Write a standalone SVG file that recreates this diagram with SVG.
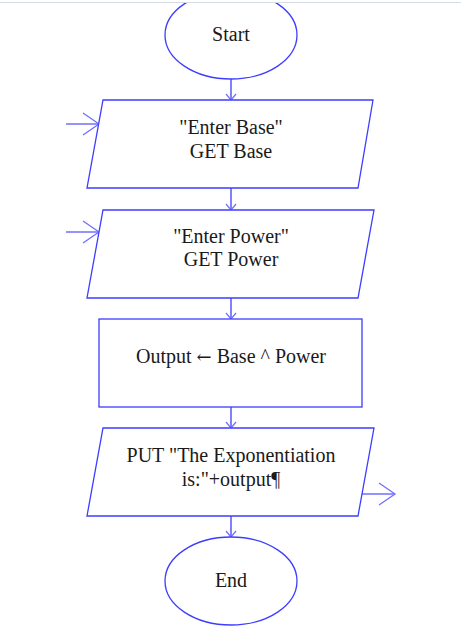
<svg xmlns="http://www.w3.org/2000/svg" width="461" height="636" viewBox="0 0 461 636">
<style>
.shape{fill:#fff;stroke:#3d3dff;stroke-width:1.3}
.t{font-family:'Liberation Serif','Times New Roman','DejaVu Serif',serif;font-size:20px;fill:#1a1a1a;text-anchor:middle}
.arr{font-family:'DejaVu Serif',serif;font-size:18px}
.conn{stroke:#3d3dff;stroke-width:1.3;fill:none}
.ext{stroke:#7070ff;stroke-width:1.3;fill:none}
</style>
<defs>
<marker id="ah" markerWidth="12" markerHeight="12" refX="10" refY="6" orient="auto" markerUnits="userSpaceOnUse">
<path d="M4,1 L10,6 L4,11" fill="none" stroke="#7070ff" stroke-width="1.2"/>
</marker>
<marker id="big" markerWidth="20" markerHeight="26" refX="18" refY="13" orient="auto" markerUnits="userSpaceOnUse">
<path d="M2,2 L18,13 L2,24" fill="none" stroke="#7070ff" stroke-width="1.3"/>
</marker>
</defs>
<rect width="461" height="636" fill="#fff"/>
<g id="connectors">
<line class="conn" x1="231" y1="79" x2="231" y2="100" marker-end="url(#ah)"/>
<line class="conn" x1="231" y1="188" x2="231" y2="210" marker-end="url(#ah)"/>
<line class="conn" x1="231" y1="298" x2="231" y2="319" marker-end="url(#ah)"/>
<line class="conn" x1="231" y1="407" x2="231" y2="428" marker-end="url(#ah)"/>
<line class="conn" x1="231" y1="516" x2="231" y2="537" marker-end="url(#ah)"/>
<line class="ext" x1="66" y1="124" x2="99" y2="124" marker-end="url(#big)"/>
<line class="ext" x1="66" y1="232" x2="99" y2="232" marker-end="url(#big)"/>
<line class="ext" x1="362" y1="494" x2="395" y2="494" marker-end="url(#big)"/>
</g>
<g id="start">
<ellipse class="shape" cx="231" cy="35" rx="66" ry="44"/>
<text class="t" x="231" y="41">Start</text>
</g>
<g id="getBase">
<polygon class="shape" points="103,100 373,100 358,188 87,188"/>
<text class="t" x="231" y="134">"Enter Base"</text>
<text class="t" x="231" y="158">GET Base</text>
</g>
<g id="getPower">
<polygon class="shape" points="103,210 374,210 358,298 87,298"/>
<text class="t" x="231" y="243">"Enter Power"</text>
<text class="t" x="231" y="266">GET Power</text>
</g>
<g id="compute">
<rect class="shape" x="99" y="319" width="263" height="88"/>
<text class="t" x="231" y="363">Output <tspan class="arr">←</tspan> Base ^ Power</text>
</g>
<g id="put">
<polygon class="shape" points="103,428 374,428 358,516 87,516"/>
<text class="t" x="231" y="462">PUT "The Exponentiation</text>
<text class="t" x="231" y="486">is:"+output¶</text>
</g>
<g id="end">
<ellipse class="shape" cx="231" cy="581" rx="66" ry="44"/>
<text class="t" x="231" y="587">End</text>
</g>
<rect x="0" y="0" width="461" height="2" fill="#fff"/>
<line x1="0" y1="2.5" x2="461" y2="2.5" stroke="#d5dce4" stroke-width="1"/>
</svg>
